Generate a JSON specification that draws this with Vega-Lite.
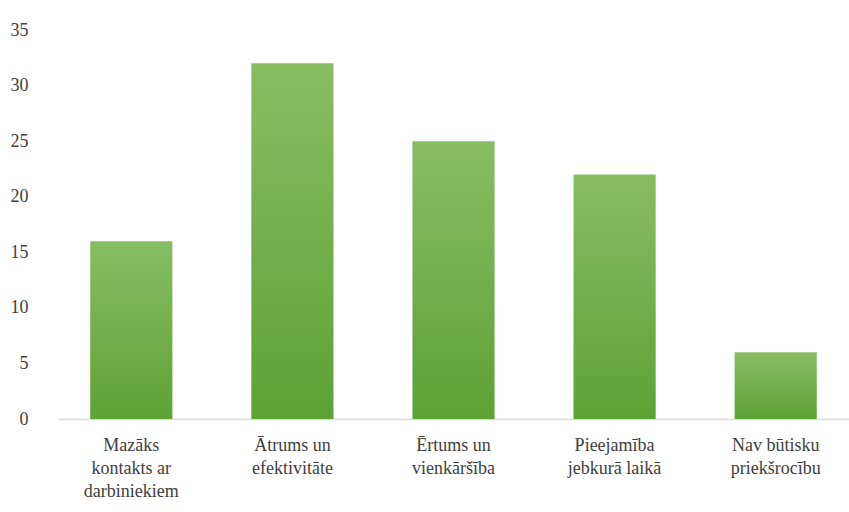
{
  "$schema": "https://vega.github.io/schema/vega-lite/v6.json",
  "autosize": "none",
  "padding": {"left": 58, "top": 30, "right": 0, "bottom": 93},
  "width": 791,
  "height": 389,
  "background": "white",
  "config": {"view": {"stroke": null}},
  "data": {
    "values": [
      {"label": "Mazāks\nkontakts ar\ndarbiniekiem", "value": 16},
      {"label": "Ātrums un\nefektivitāte", "value": 32},
      {"label": "Ērtums un\nvienkāršība", "value": 25},
      {"label": "Pieejamība\njebkurā laikā", "value": 22},
      {"label": "Nav būtisku\npriekšrocību", "value": 6}
    ]
  },
  "mark": {
    "type": "bar",
    "color": {
      "gradient": "linear",
      "x1": 0, "y1": 0, "x2": 0, "y2": 1,
      "stops": [
        {"offset": 0, "color": "#88bd63"},
        {"offset": 1, "color": "#5ea234"}
      ]
    }
  },
  "encoding": {
    "x": {
      "field": "label",
      "type": "nominal",
      "sort": null,
      "scale": {"paddingInner": 0.49, "paddingOuter": 0.2},
      "axis": {
        "title": null,
        "labelAngle": 0,
        "labelExpr": "split(datum.label, '\\n')",
        "labelFont": "Liberation Serif, serif",
        "labelFontSize": 18,
        "labelColor": "#404040",
        "labelLineHeight": 23,
        "labelPadding": 17,
        "ticks": false,
        "domainColor": "#d9d9d9",
        "domainWidth": 1.5
      }
    },
    "y": {
      "field": "value",
      "type": "quantitative",
      "scale": {"domain": [0, 35], "nice": false},
      "axis": {
        "title": null,
        "values": [0, 5, 10, 15, 20, 25, 30, 35],
        "grid": false,
        "domain": false,
        "ticks": false,
        "labelPadding": 30,
        "labelFont": "Liberation Serif, serif",
        "labelFontSize": 18,
        "labelColor": "#404040"
      }
    }
  }
}
